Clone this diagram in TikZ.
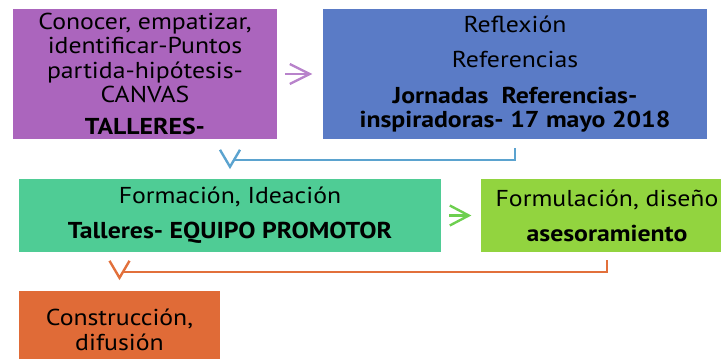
\documentclass[tikz,border=0pt]{standalone}
\usepackage{fontspec}
\setmainfont{PT Sans}[FakeStretch=1.12]
\definecolor{cpurple}{HTML}{AB65BD}
\definecolor{cpurplea}{HTML}{B883CB}
\definecolor{cblue}{HTML}{5A7BC6}
\definecolor{cbluea}{HTML}{5BA3CF}
\definecolor{cteal}{HTML}{4FCC95}
\definecolor{cgreena}{HTML}{6DCF4F}
\definecolor{clime}{HTML}{92D43F}
\definecolor{corange}{HTML}{E06B37}
\definecolor{corangea}{HTML}{E2703B}
\tikzset{
  box/.style={inner sep=0pt, align=center, text=black, font=\fontsize{23}{24.5}\selectfont},
  conn/.style={line width=2.6pt},
  chev/.style={line width=2.4pt, line join=miter},
}
\begin{document}
\begin{tikzpicture}[x=1pt,y=-1pt]
\useasboundingbox (0,0) rectangle (721,359);
\clip (0,0) rectangle (721,359);
\node[box, fill=cpurple, minimum width=264pt, minimum height=130pt] (purple) at (145,74)
  {Conocer, empatizar,\\ identificar-Puntos\\ partida-hipótesis-\\ CANVAS\\[7.5pt] \textbf{TALLERES-}};
\node[box, fill=cblue, minimum width=384pt, minimum height=130pt] (blue) at (515,74)
  {Reflexión\\[11pt] Referencias\\[11pt] \textbf{Jornadas\ \ Referencias-}\\ \textbf{inspiradoras- 17 mayo 2018}};
\node[box, fill=cteal, minimum width=422pt, minimum height=73pt] (teal) at (230,215.5)
  {Formación, Ideación\\[10.5pt] \textbf{Talleres- EQUIPO PROMOTOR}};
\node[box, fill=clime, minimum width=252pt, minimum height=73pt] (lime) at (607,215.5)
  {Formulación, diseño\\[10.5pt] \textbf{asesoramiento}};
\node[box, fill=corange, minimum width=201pt, minimum height=78pt] (orange) at (119.5,330)
  {Construcción,\\ difusión};
% purple -> blue
\coordinate (pa) at ([xshift=8pt]purple.east);
\coordinate (pb) at ([xshift=-13pt]blue.west);
\draw[chev, cpurplea] (pa) -- (pb);
\draw[chev, cpurplea] ([xshift=-20pt,yshift=10pt]pb) -- (pb) -- ([xshift=-20pt,yshift=-10pt]pb);
% teal -> lime
\coordinate (ga) at ([xshift=8pt]teal.east);
\coordinate (gb) at ([xshift=-12pt]lime.west);
\draw[chev, cgreena] (ga) -- (gb);
\draw[chev, cgreena] ([xshift=-19pt,yshift=10pt]gb) -- (gb) -- ([xshift=-19pt,yshift=-10pt]gb);
% blue -> teal
\coordinate (tipA) at ([yshift=12pt]teal.north);
\draw[conn, cbluea] ([yshift=-9pt]blue.south) |- ([xshift=4pt,yshift=7pt]tipA);
\draw[chev, cbluea] ([xshift=-10pt,yshift=17pt]tipA) -- (tipA) -- ([xshift=10pt,yshift=17pt]tipA);
% lime -> orange
\coordinate (tipB) at ([yshift=13pt]orange.north);
\draw[conn, corangea] ([yshift=-8pt]lime.south) |- ([xshift=3.5pt,yshift=6pt]tipB);
\draw[chev, corangea] ([xshift=-10pt,yshift=17pt]tipB) -- (tipB) -- ([xshift=10pt,yshift=17pt]tipB);
\end{tikzpicture}
\end{document}
